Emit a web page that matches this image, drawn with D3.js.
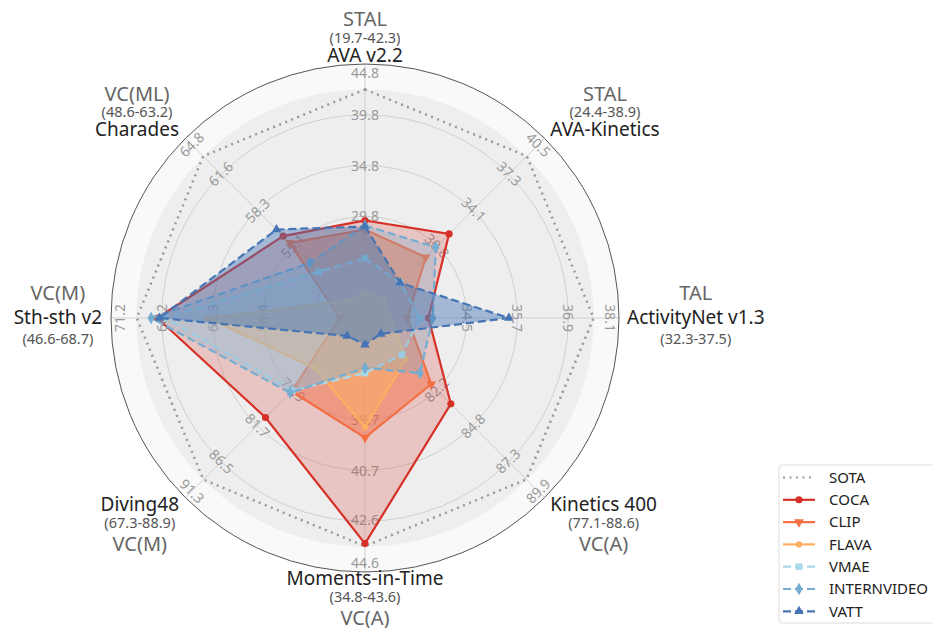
<!DOCTYPE html>
<html>
<head>
<meta charset="utf-8">
<script src="https://cdn.jsdelivr.net/npm/d3@7"></script>
<style>
  body { margin: 0; background: #fff; }
  text { font-family: "Noto Sans", sans-serif; }
</style>
</head>
<body>
<div id="chart"></div>
<script>

// axes, clockwise from the top
var datasets = ["AVA v2.2", "AVA-Kinetics", "ActivityNet v1.3", "Kinetics 400",
                "Moments-in-Time", "Diving48", "Sth-sth v2", "Charades"];
var tasks = ["STAL", "STAL", "TAL", "VC(A)", "VC(A)", "VC(M)", "VC(M)", "VC(ML)"];
var ranges = ["(19.7-42.3)", "(24.4-38.9)", "(32.3-37.5)", "(77.1-88.6)",
              "(34.8-43.6)", "(67.3-88.9)", "(46.6-68.7)", "(48.6-63.2)"];

// radial tick labels per axis (rings 0.4, 0.6, 0.8, 1.0)
var ticks = [
  [29.8, 34.8, 39.8, 44.8],
  [30.8, 34.1, 37.3, 40.5],
  [34.5, 35.7, 36.9, 38.1],
  [82.2, 84.8, 87.3, 89.9],
  [38.7, 40.7, 42.6, 44.6],
  [76.9, 81.7, 86.5, 91.3],
  [56.4, 61.3, 66.2, 71.2],
  [55.1, 58.3, 61.6, 64.8]
];

// series values
var sota  = [42.3, 38.9, 37.5, 88.6, 43.6, 88.9, 68.7, 63.2];
var coca  = [29.4, 31.9, 33.6, 83.2, 43.5, 80.6, 66.7, 56.0];
var clip  = [28.5, 29.8, 33.1, 81.8, 39.4, 77.1, 49.0, 55.4];
var flava = [22.3, 26.0, 32.7, 80.0, 39.0, 74.0, 61.8, 50.2];
var vmae  = [25.7, 27.5, 33.4, 79.7, 36.9, 77.0, 66.0, 52.8];
var internvideo = [28.9, 30.7, 33.7, 81.0, 36.7, 77.3, 67.3, 53.6];
var vatt  = [28.8, 27.5, 35.5, 78.2, 35.8, 69.7, 66.5, 56.6];

var width = 933, height = 628;
var cx = 365, cy = 318, R = 254;
var n = datasets.length;

var svg = d3.select("#chart")
  .append("svg")
    .attr("width", width)
    .attr("height", height);

function angle(i) { return i * 2 * Math.PI / n; }

// one linear scale per axis, from the tick labels
var scales = ticks.map(function(t) {
  return d3.scaleLinear().domain([t[0], t[3]]).range([0.4 * R, R]);
});

function point(i, v) {
  var r = scales[i](v), a = angle(i);
  return [cx + r * Math.sin(a), cy - r * Math.cos(a)];
}

// background discs
svg.append("circle").attr("cx", cx).attr("cy", cy).attr("r", R).attr("fill", "#f9f9f9");
svg.append("circle").attr("cx", cx).attr("cy", cy).attr("r", 0.9 * R).attr("fill", "#eeeeee");

// grid rings
svg.selectAll(".ring")
  .data([0.2, 0.4, 0.6, 0.8])
  .enter().append("circle")
    .attr("cx", cx).attr("cy", cy)
    .attr("r", function(d) { return d * R; })
    .attr("fill", "none")
    .attr("stroke", "#c8c8c8")
    .attr("stroke-width", 0.8);

// spokes
svg.selectAll(".spoke")
  .data(d3.range(n))
  .enter().append("line")
    .attr("x1", cx).attr("y1", cy)
    .attr("x2", function(i) { return cx + R * Math.sin(angle(i)); })
    .attr("y2", function(i) { return cy - R * Math.cos(angle(i)); })
    .attr("stroke", "#c8c8c8")
    .attr("stroke-width", 0.8);

svg.append("circle").attr("cx", cx).attr("cy", cy).attr("r", R)
  .attr("fill", "none").attr("stroke", "#555").attr("stroke-width", 1);

// radial tick labels, rotated along each spoke
ticks.forEach(function(t, i) {
  var deg = i * 360 / n;
  var rot = deg <= 90 ? deg : (deg < 270 ? deg - 180 : deg - 360);
  t.forEach(function(v, j) {
    var r = scales[i](v) - (j === 3 ? 9 : 0);
    var x = cx + r * Math.sin(angle(i)), y = cy - r * Math.cos(angle(i));
    svg.append("text")
      .attr("transform", "translate(" + x + "," + y + ") rotate(" + rot + ")")
      .attr("text-anchor", "middle")
      .attr("dy", "0.35em")
      .attr("font-size", 14)
      .attr("fill", "#9a9a9a")
      .text(v.toFixed(1));
  });
});

// series
var series = [
  {name: "COCA", values: coca, color: "#d73027", dash: null, marker: "circle", size: 40, alpha: 0.22},
  {name: "CLIP", values: clip, color: "#f46d43", dash: null, marker: "tridown", size: 40, alpha: 0.5},
  {name: "FLAVA", values: flava, color: "#fdae61", dash: null, marker: "circle", size: 30, alpha: 0.5},
  {name: "VMAE", values: vmae, color: "#abd9e9", dash: "8,4", marker: "square", size: 45, alpha: 0.25},
  {name: "INTERNVIDEO", values: internvideo, color: "#74add1", dash: "8,4", marker: "diamond", size: 45, alpha: 0.28},
  {name: "VATT", values: vatt, color: "#4575b4", dash: "8,4", marker: "triup", size: 40, alpha: 0.45}
];

function symbolPath(m, s) {
  var type = {circle: d3.symbolCircle, square: d3.symbolSquare, diamond: d3.symbolDiamond,
              tridown: d3.symbolTriangle, triup: d3.symbolTriangle}[m];
  return d3.symbol().type(type).size(s)();
}
function symbolRot(m) { return m === "tridown" ? " rotate(180)" : ""; }

var line = d3.line().curve(d3.curveLinearClosed);

// SOTA dotted outline
svg.append("path")
  .attr("d", line(sota.map(function(v, i) { return point(i, v); })))
  .attr("fill", "none")
  .attr("stroke", "#999")
  .attr("stroke-width", 2.5)
  .attr("stroke-dasharray", "2,4.5");

series.forEach(function(s) {
  var pts = s.values.map(function(v, i) { return point(i, v); });
  svg.append("path")
    .attr("d", line(pts))
    .attr("fill", s.color)
    .attr("fill-opacity", s.alpha)
    .attr("stroke", "none");
  svg.append("path")
    .attr("d", line(pts))
    .attr("fill", "none")
    .attr("stroke", s.color)
    .attr("stroke-width", 2.2)
    .attr("stroke-dasharray", s.dash);
  svg.selectAll(null)
    .data(pts)
    .enter().append("path")
      .attr("d", symbolPath(s.marker, s.size))
      .attr("transform", function(p) { return "translate(" + p[0] + "," + p[1] + ")" + symbolRot(s.marker); })
      .attr("fill", s.color);
});

// axis labels: task, range and dataset name
datasets.forEach(function(name, i) {
  var a = angle(i), sn = Math.sin(a), cs = Math.cos(a);
  var lines, base;
  if (cs > 0.1) {
    lines = [{t: tasks[i], k: "task"}, {t: ranges[i], k: "range"}, {t: name, k: "name"}];
    base = [-35.7, -19, 0];
  } else if (cs < -0.1) {
    lines = [{t: name, k: "name"}, {t: ranges[i], k: "range"}, {t: tasks[i], k: "task"}];
    base = [0, 17.4, 40];
  } else {
    lines = [{t: tasks[i], k: "task"}, {t: name, k: "name"}, {t: ranges[i], k: "range"}];
    base = [-24.5, 0, 19.7];
  }
  var refY;
  if (cs > 0.1) refY = cy - R * cs - 2;
  else if (cs < -0.1) refY = cy - R * cs + 13;
  else refY = cy + 6;

  var g = svg.append("g");
  var texts = lines.map(function(l, j) {
    return g.append("text")
      .attr("x", 0)
      .attr("y", base[j])
      .attr("text-anchor", "middle")
      .attr("font-size", l.k === "task" ? 20 : (l.k === "name" ? 19 : 14.5))
      .attr("fill", l.k === "name" ? "#222" : (l.k === "task" ? "#666" : "#555"))
      .text(l.t);
  });
  var maxW = d3.max(texts, function(t) { return t.node().getComputedTextLength(); });
  var refX;
  if (sn > 0.1) refX = cx + (R + 8) * sn + maxW / 2;
  else if (sn < -0.1) refX = cx + (R + 9) * sn - maxW / 2;
  else refX = cx;
  g.attr("transform", "translate(" + refX + "," + refY + ")");
});

// legend
var legend = svg.append("g").attr("transform", "translate(779,465)");
legend.append("rect")
  .attr("width", 170).attr("height", 158)
  .attr("rx", 3)
  .attr("fill", "#fff")
  .attr("stroke", "#dddddd");

var legendItems = [{name: "SOTA", color: "#999", dash: "2,4.5", marker: null}].concat(series);
legendItems.forEach(function(s, j) {
  var y = 12.5 + j * 22.3;
  legend.append("line")
    .attr("x1", 4).attr("x2", 36)
    .attr("y1", y).attr("y2", y)
    .attr("stroke", s.color)
    .attr("stroke-width", s.marker ? 2.2 : 2)
    .attr("stroke-dasharray", s.dash);
  if (s.marker) {
    legend.append("path")
      .attr("d", symbolPath(s.marker, s.size))
      .attr("transform", "translate(20," + y + ")" + symbolRot(s.marker))
      .attr("fill", s.color);
  }
  legend.append("text")
    .attr("x", 50)
    .attr("y", y + 5.3)
    .attr("font-size", 15)
    .attr("fill", "#222")
    .text(s.name);
});

</script>
</body>
</html>
